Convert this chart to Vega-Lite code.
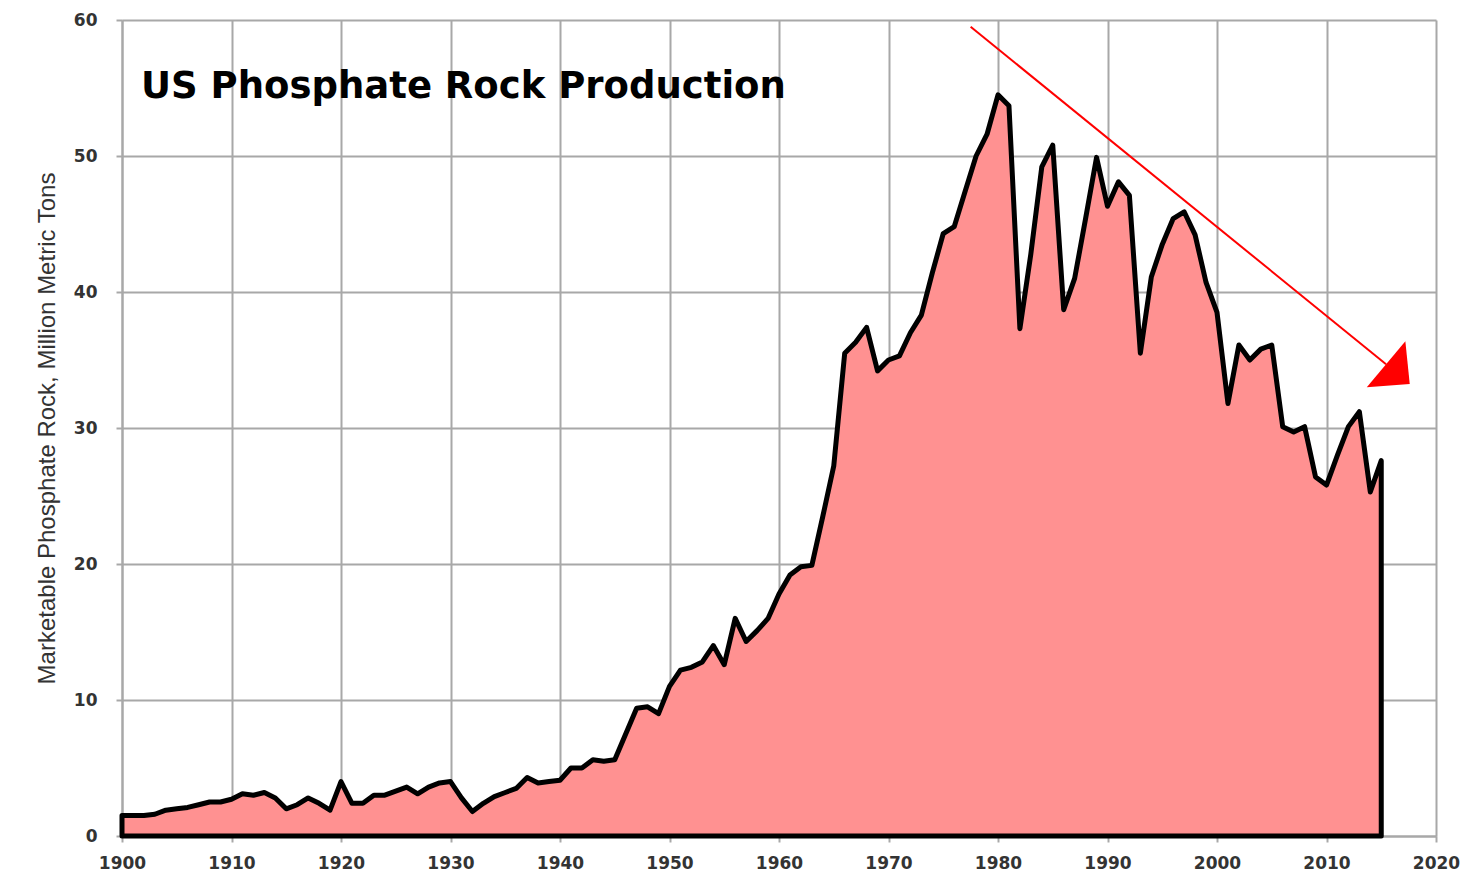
{
  "$schema": "https://vega.github.io/schema/vega-lite/v6.json",
  "width": 1314,
  "height": 816,
  "autosize": {"type": "none"},
  "padding": {"left": 122, "top": 20, "right": 24, "bottom": 41},
  "background": "white",
  "config": {
    "view": {"stroke": null},
    "axis": {
      "gridColor": "#a8a8a8",
      "gridWidth": 2,
      "domainColor": "#a8a8a8",
      "domainWidth": 2,
      "tickColor": "#a8a8a8",
      "tickWidth": 2,
      "tickSize": 6,
      "labelFont": "DejaVu Sans",
      "labelFontWeight": "bold",
      "labelFontSize": 17,
      "labelColor": "#333333",
      "titleFont": "Liberation Sans",
      "titleFontWeight": "normal",
      "titleFontSize": 24,
      "titleColor": "#333333"
    }
  },
  "datasets": {
    "production": [
      {"year": 1900, "value": 1.5}, {"year": 1901, "value": 1.5}, {"year": 1902, "value": 1.5}, {"year": 1903, "value": 1.6},
      {"year": 1904, "value": 1.9}, {"year": 1905, "value": 2.0}, {"year": 1906, "value": 2.1}, {"year": 1907, "value": 2.3},
      {"year": 1908, "value": 2.5}, {"year": 1909, "value": 2.5}, {"year": 1910, "value": 2.7}, {"year": 1911, "value": 3.1},
      {"year": 1912, "value": 3.0}, {"year": 1913, "value": 3.2}, {"year": 1914, "value": 2.8}, {"year": 1915, "value": 2.0},
      {"year": 1916, "value": 2.3}, {"year": 1917, "value": 2.8}, {"year": 1918, "value": 2.4}, {"year": 1919, "value": 1.9},
      {"year": 1920, "value": 4.0}, {"year": 1921, "value": 2.4}, {"year": 1922, "value": 2.4}, {"year": 1923, "value": 3.0},
      {"year": 1924, "value": 3.0}, {"year": 1925, "value": 3.3}, {"year": 1926, "value": 3.6}, {"year": 1927, "value": 3.1},
      {"year": 1928, "value": 3.6}, {"year": 1929, "value": 3.9}, {"year": 1930, "value": 4.0}, {"year": 1931, "value": 2.8},
      {"year": 1932, "value": 1.8}, {"year": 1933, "value": 2.4}, {"year": 1934, "value": 2.9}, {"year": 1935, "value": 3.2},
      {"year": 1936, "value": 3.5}, {"year": 1937, "value": 4.3}, {"year": 1938, "value": 3.9}, {"year": 1939, "value": 4.0},
      {"year": 1940, "value": 4.1}, {"year": 1941, "value": 5.0}, {"year": 1942, "value": 5.0}, {"year": 1943, "value": 5.6},
      {"year": 1944, "value": 5.5}, {"year": 1945, "value": 5.6}, {"year": 1946, "value": 7.5}, {"year": 1947, "value": 9.4},
      {"year": 1948, "value": 9.5}, {"year": 1949, "value": 9.0}, {"year": 1950, "value": 11.0}, {"year": 1951, "value": 12.2},
      {"year": 1952, "value": 12.4}, {"year": 1953, "value": 12.8}, {"year": 1954, "value": 14.0}, {"year": 1955, "value": 12.6},
      {"year": 1956, "value": 16.0}, {"year": 1957, "value": 14.3}, {"year": 1958, "value": 15.1}, {"year": 1959, "value": 16.0},
      {"year": 1960, "value": 17.8}, {"year": 1961, "value": 19.2}, {"year": 1962, "value": 19.8}, {"year": 1963, "value": 19.9},
      {"year": 1964, "value": 23.5}, {"year": 1965, "value": 27.2}, {"year": 1966, "value": 35.5}, {"year": 1967, "value": 36.3},
      {"year": 1968, "value": 37.4}, {"year": 1969, "value": 34.2}, {"year": 1970, "value": 35.0}, {"year": 1971, "value": 35.3},
      {"year": 1972, "value": 37.0}, {"year": 1973, "value": 38.3}, {"year": 1974, "value": 41.4}, {"year": 1975, "value": 44.3},
      {"year": 1976, "value": 44.8}, {"year": 1977, "value": 47.4}, {"year": 1978, "value": 50.0}, {"year": 1979, "value": 51.6},
      {"year": 1980, "value": 54.5}, {"year": 1981, "value": 53.7}, {"year": 1982, "value": 37.3}, {"year": 1983, "value": 42.8},
      {"year": 1984, "value": 49.2}, {"year": 1985, "value": 50.8}, {"year": 1986, "value": 38.7}, {"year": 1987, "value": 41.0},
      {"year": 1988, "value": 45.4}, {"year": 1989, "value": 49.9}, {"year": 1990, "value": 46.3}, {"year": 1991, "value": 48.1},
      {"year": 1992, "value": 47.1}, {"year": 1993, "value": 35.5}, {"year": 1994, "value": 41.1}, {"year": 1995, "value": 43.5},
      {"year": 1996, "value": 45.4}, {"year": 1997, "value": 45.9}, {"year": 1998, "value": 44.2}, {"year": 1999, "value": 40.7},
      {"year": 2000, "value": 38.5}, {"year": 2001, "value": 31.8}, {"year": 2002, "value": 36.1}, {"year": 2003, "value": 35.0},
      {"year": 2004, "value": 35.8}, {"year": 2005, "value": 36.1}, {"year": 2006, "value": 30.1}, {"year": 2007, "value": 29.7},
      {"year": 2008, "value": 30.1}, {"year": 2009, "value": 26.4}, {"year": 2010, "value": 25.8}, {"year": 2011, "value": 28.0},
      {"year": 2012, "value": 30.1}, {"year": 2013, "value": 31.2}, {"year": 2014, "value": 25.3}, {"year": 2015, "value": 27.6}
    ],
    "arrow": [
      {"x1": 1977.5, "y1": 59.5, "x2": 2015.44, "y2": 34.69}
    ],
    "label": [
      {"year": 1901.73, "value": 54.3, "text": "US Phosphate Rock Production"}
    ]
  },
  "layer": [
    {
      "data": {"name": "production"},
      "mark": {"type": "area", "color": "#ff9191", "fillOpacity": 1, "stroke": "#000000", "strokeWidth": 5, "strokeJoin": "round"},
      "encoding": {
        "x": {
          "field": "year",
          "type": "quantitative",
          "scale": {"domain": [1900, 2020], "nice": false, "zero": false},
          "axis": {"values": [1900, 1910, 1920, 1930, 1940, 1950, 1960, 1970, 1980, 1990, 2000, 2010, 2020], "format": "d", "title": null, "labelPadding": 13, "labelFlush": false}
        },
        "y": {
          "field": "value",
          "type": "quantitative",
          "scale": {"domain": [0, 60], "nice": false},
          "axis": {"values": [0, 10, 20, 30, 40, 50, 60], "title": "Marketable Phosphate Rock, Million Metric Tons", "labelPadding": 19, "titlePadding": 14}
        }
      }
    },
    {
      "data": {"name": "arrow"},
      "mark": {"type": "rule", "color": "#ff0000", "strokeWidth": 2},
      "encoding": {
        "x": {"field": "x1", "type": "quantitative"},
        "y": {"field": "y1", "type": "quantitative"},
        "x2": {"field": "x2"},
        "y2": {"field": "y2"}
      }
    },
    {
      "data": {"name": "arrow"},
      "mark": {"type": "point", "filled": true, "color": "#ff0000", "opacity": 1, "strokeWidth": 0, "shape": "M -1 0 L 1 0 L 0 -1.03 Z", "size": 3600, "angle": 130},
      "encoding": {
        "x": {"field": "x2", "type": "quantitative"},
        "y": {"field": "y2", "type": "quantitative"}
      }
    },
    {
      "data": {"name": "label"},
      "mark": {"type": "text", "align": "left", "baseline": "alphabetic", "font": "DejaVu Sans", "fontWeight": "bold", "fontSize": 37, "color": "#000000"},
      "encoding": {
        "x": {"field": "year", "type": "quantitative"},
        "y": {"field": "value", "type": "quantitative"},
        "text": {"field": "text"}
      }
    }
  ]
}
